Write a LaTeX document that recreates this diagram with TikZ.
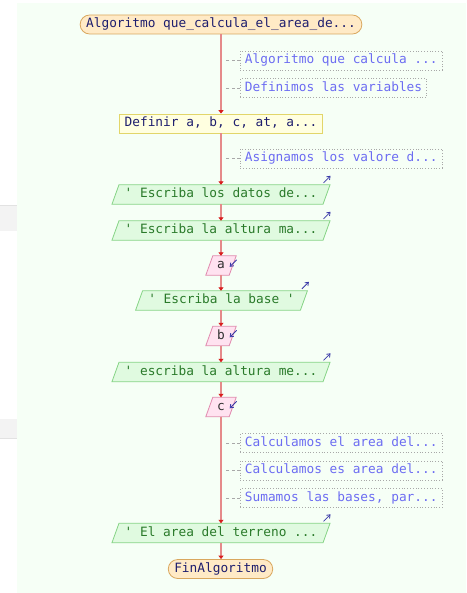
\documentclass[tikz,border=0pt]{standalone}
\usepackage{fontspec}
\setmonofont{DejaVu Sans Mono}
\usetikzlibrary{arrows.meta,backgrounds}

\definecolor{pagebg}{HTML}{F6FFF6}
\definecolor{sidebar}{HTML}{F3F3F3}
\definecolor{sideline}{HTML}{E2E2E2}
\definecolor{flow}{HTML}{E58A8A}
\definecolor{flowtip}{HTML}{D81E1E}
\definecolor{termfill}{HTML}{FFEAC6}
\definecolor{termdraw}{HTML}{D9A75E}
\definecolor{procfill}{HTML}{FFFFE0}
\definecolor{procdraw}{HTML}{E2D66A}
\definecolor{outfill}{HTML}{E0FAE0}
\definecolor{outdraw}{HTML}{86D486}
\definecolor{outtext}{HTML}{2A7A2A}
\definecolor{infill}{HTML}{FFE2F0}
\definecolor{indraw}{HTML}{E08AAE}
\definecolor{intext}{HTML}{303030}
\definecolor{navy}{HTML}{1E1E6E}
\definecolor{cmttext}{HTML}{6C6CF2}
\definecolor{cmtdraw}{HTML}{A8A8A8}
\definecolor{ioarrow}{HTML}{3A3AA8}

\tikzset{
  base/.style={font=\ttfamily\fontsize{12.8}{14}\selectfont, minimum height=19pt,
    inner ysep=0pt, text height=9pt, text depth=2.5pt},
  term/.style={base, draw=termdraw, fill=termfill, text=navy, rounded corners=9.5pt,
    inner xsep=6pt, line width=0.8pt},
  proc/.style={base, draw=procdraw, fill=procfill, text=navy, inner xsep=5pt, line width=0.8pt},
  outbox/.style={base, text=outtext, inner xsep=9pt},
  inbox/.style={base, text=intext, inner xsep=7.6pt},
  cmt/.style={base, draw=cmtdraw, dotted, text=cmttext, inner xsep=4.5pt, line width=0.8pt},
  para/.style={line width=0.8pt},
  flowline/.style={draw=flow, line width=1.4pt},
  flowarrow/.style={flowline, -{Triangle[width=5pt,length=3.5pt,color=flowtip]}},
  cmtlink/.style={draw=cmtdraw, dashed, dash pattern=on 3pt off 2.5pt, line width=0.7pt},
  ioout/.style={draw=ioarrow, line width=0.8pt, -{Straight Barb[length=3pt,width=4.5pt]}},
}

% parallelogram behind a named node, slanted by 3.5pt on each side
\newcommand\slantbox[3]{%
  \begin{scope}[on background layer]
    \draw[para, draw=#2, fill=#3]
      ([xshift=-3.5pt]#1.south west) -- ([xshift=3.5pt]#1.north west) --
      ([xshift=3.5pt]#1.north east) -- ([xshift=-3.5pt]#1.south east) -- cycle;
  \end{scope}}

\begin{document}
\begin{tikzpicture}[x=1pt,y=-1pt]
\useasboundingbox (0,0) rectangle (466,593);

% page and side panel, kept on the background layer beneath the shapes
\begin{scope}[on background layer]
\fill[white] (0,0) rectangle (466,593);
\fill[pagebg] (17,3) rectangle (466,593);
\fill[sidebar] (0,205) rectangle (17,231);
\draw[sideline, line width=0.8pt] (0,205) -- (17,205);
\fill[sidebar] (0,419) rectangle (17,438);
\draw[sideline, line width=0.8pt] (0,438) -- (17,438);
\end{scope}

% flow nodes
\node[term] (start) at (221,24.5) {Algoritmo que\_calcula\_el\_area\_de...};
\node[proc] (def) at (221,123.5) {Definir a, b, c, at, a...};
\node[outbox, minimum width=210pt] (o1) at (221,194.5) {' Escriba los datos de...};
\node[outbox, minimum width=210pt] (o2) at (221,230.5) {' Escriba la altura ma...};
\node[inbox, minimum width=23pt] (ia) at (221,265.5) {a};
\node[outbox, minimum width=164pt] (o3) at (221.5,300.5) {' Escriba la base '};
\node[inbox, minimum width=23pt] (ib) at (221,336) {b};
\node[outbox, minimum width=210pt] (o4) at (221,372) {' escriba la altura me...};
\node[inbox, minimum width=23pt] (ic) at (221,407) {c};
\node[outbox, minimum width=210pt] (o5) at (221,533) {' El area del terreno ...};
\node[term] (stop) at (220.5,569) {FinAlgoritmo};

\foreach \n in {o1,o2,o3,o4,o5} {\slantbox{\n}{outdraw}{outfill}}
\foreach \n in {ia,ib,ic} {\slantbox{\n}{indraw}{infill}}

% comments
\node[cmt, anchor=west] (c1) at (240,60.5) {Algoritmo que calcula ...};
\node[cmt, anchor=west] (c2) at (240,88) {Definimos las variables};
\node[cmt, anchor=west] (c3) at (240,158.5) {Asignamos los valore d...};
\node[cmt, anchor=west] (c4) at (240,443) {Calculamos el area del...};
\node[cmt, anchor=west] (c5) at (240,470.5) {Calculamos es area del...};
\node[cmt, anchor=west] (c6) at (240,498) {Sumamos las bases, par...};

% main flow
\draw[flowarrow] (start) -- (def);
\draw[flowarrow] (def) -- (o1);
\draw[flowarrow] (o1) -- (o2);
\draw[flowarrow] (o2) -- (ia);
\draw[flowarrow] (ia) -- (o3.north -| ia);
\draw[flowarrow] (o3.south -| ia) -- (ib);
\draw[flowarrow] (ib) -- (o4);
\draw[flowarrow] (o4) -- (ic);
\draw[flowarrow] (ic) -- (o5);
\draw[flowarrow] (o5) -- (stop.north -| o5);

% comment links
\foreach \c in {c1,c2,c3,c4,c5,c6} {\draw[cmtlink] (\c.west) -- ++(-15,0);}

% input/output markers
\foreach \n in {o1,o2,o4,o5} {\draw[ioout] ([xshift=-3pt,yshift=2pt]\n.north east) -- ++(7,-7);}
\draw[ioout] ([xshift=-2pt,yshift=2pt]o3.north east) -- ++(7,-7);
\foreach \n in {ia,ib,ic} {\draw[ioout] ([xshift=4pt,yshift=-4pt]\n.north east) -- ++(-7,7);}
\end{tikzpicture}
\end{document}
